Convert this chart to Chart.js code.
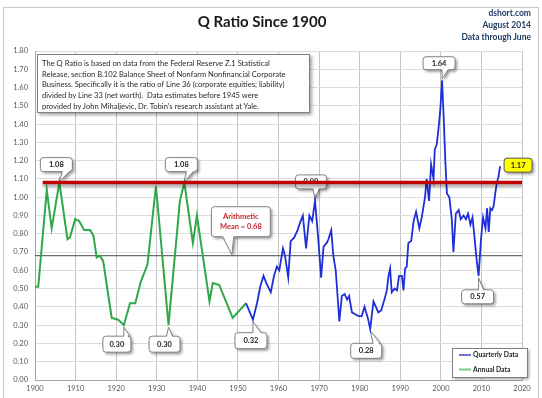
<!DOCTYPE html>
<html>
<head>
<meta charset="utf-8">
<script src="https://cdn.jsdelivr.net/npm/chart.js@4.4.1/dist/chart.umd.min.js"></script>
<style>
html, body { margin: 0; padding: 0; background: #fff; }
#wrap { position: relative; width: 542px; height: 398px; overflow: hidden; font-family: Lato, "Liberation Sans", sans-serif; }
#frame { position: absolute; left: 3px; top: 7px; width: 534px; height: 400px; border: 1px solid #c8c8c8; }
canvas { position: absolute; left: 0; top: 0; }
#title { position: absolute; left: 0; width: 524px; top: 12px; text-align: center; font-weight: bold; font-size: 15px; color: #1a1a1a; }
#src { position: absolute; right: 11px; top: 7px; text-align: right; font-weight: bold; font-size: 8.5px; line-height: 12px; color: #1f3b63; }
#note { position: absolute; left: 37px; top: 54px; width: 263px; height: 51px; padding: 3px 4px; background: #fff;
        border: 1px solid #7f7f7f; box-shadow: 2px 2px 3px rgba(0,0,0,0.35);
        font-size: 7.6px; line-height: 10.7px; color: #2a2a2a; white-space: nowrap; }
</style>
</head>
<body>
<div id="wrap">
  <div id="frame"></div>
  <canvas id="chart" width="542" height="398"></canvas>
  <div id="title">Q Ratio Since 1900</div>
  <div id="src">dshort.com<br>August 2014<br>Data through June</div>
  <div id="note">The Q Ratio is based on data from the Federal Reserve Z.1 Statistical<br>Release, section B.102 Balance Sheet of Nonfarm Nonfinancial Corporate<br>Business. Specifically it is the ratio of Line 36 (corporate equities; liability)<br>divided by Line 33 (net worth).&nbsp; Data estimates before 1945 were<br>provided by John Mihaljevic, Dr. Tobin's research assistant at Yale.</div>
</div>
<script>
// annual data (green)
const annualYears = [1900.0, 1900.8, 1902.9, 1904.1, 1906.0, 1908.0, 1908.6, 1909.9, 1910.9, 1912.1,
  1913.6, 1914.4, 1915.2, 1916.0, 1916.8, 1918.9, 1920.5, 1921.9, 1923.4, 1924.7,
  1926.1, 1927.7, 1929.8, 1932.9, 1935.7, 1936.8, 1938.9, 1939.9, 1943.0, 1943.8,
  1945.4, 1948.7, 1952.0];
const annualQ = [0.51, 0.51, 1.04, 0.83, 1.08, 0.77, 0.78, 0.88, 0.87, 0.82,
  0.82, 0.79, 0.67, 0.68, 0.65, 0.34, 0.33, 0.30, 0.42, 0.42,
  0.54, 0.63, 1.06, 0.30, 0.98, 1.08, 0.75, 0.90, 0.43, 0.53,
  0.52, 0.34, 0.42];

// quarterly data (blue)
const quarterYears = [1952.0, 1953.7, 1954.7, 1955.5, 1956.3, 1957.0, 1958.1, 1958.9, 1959.6, 1960.2,
  1961.1, 1961.6, 1962.4, 1963.0, 1963.9, 1964.7, 1965.3, 1966.0, 1966.8, 1967.6,
  1968.3, 1969.0, 1969.8, 1970.5, 1971.1, 1971.9, 1972.3, 1973.0, 1973.5, 1974.1,
  1975.0, 1975.6, 1976.3, 1976.9, 1977.4, 1978.1, 1978.9, 1979.7, 1980.5, 1981.2,
  1982.0, 1982.6, 1983.4, 1984.0, 1984.6, 1985.3, 1986.1, 1986.7, 1987.1, 1987.5,
  1987.9, 1988.6, 1989.2, 1989.7, 1990.4, 1990.8, 1991.2, 1991.6, 1992.0, 1992.7,
  1993.3, 1993.9, 1994.7, 1995.3, 1996.1, 1996.5, 1997.1, 1997.6, 1998.2, 1998.5,
  1999.0, 1999.5, 1999.9, 2000.3, 2000.7, 2001.1, 2001.5, 2002.1, 2002.7, 2003.1,
  2003.7, 2004.4, 2004.9, 2005.6, 2006.2, 2006.7, 2007.3, 2007.8, 2008.3, 2008.9,
  2009.3, 2009.9, 2010.4, 2011.0, 2011.4, 2011.8, 2012.2, 2012.6, 2013.0, 2013.4,
  2013.8, 2014.2, 2014.6];
const quarterQ = [0.42, 0.33, 0.42, 0.51, 0.57, 0.53, 0.48, 0.57, 0.62, 0.60,
  0.72, 0.68, 0.56, 0.76, 0.78, 0.82, 0.86, 0.90, 0.72, 0.90,
  0.87, 0.98, 0.77, 0.56, 0.73, 0.75, 0.77, 0.82, 0.68, 0.60,
  0.32, 0.46, 0.47, 0.44, 0.46, 0.37, 0.36, 0.35, 0.35, 0.40,
  0.34, 0.28, 0.43, 0.40, 0.37, 0.38, 0.44, 0.49, 0.57, 0.61,
  0.48, 0.50, 0.49, 0.57, 0.57, 0.49, 0.61, 0.62, 0.75, 0.76,
  0.87, 0.92, 0.83, 0.89, 1.00, 1.10, 0.98, 1.18, 1.10, 1.26,
  1.29, 1.39, 1.49, 1.64, 1.44, 1.20, 1.02, 1.00, 0.88, 0.70,
  0.91, 0.93, 0.88, 0.90, 0.88, 0.91, 0.85, 0.89, 0.78, 0.64,
  0.57, 0.77, 0.89, 0.83, 0.94, 0.81, 0.94, 0.93, 0.95, 1.02,
  1.08, 1.11, 1.17];

const meanQ = 0.68;
const meanYears = [1900, 2020];
const topQ = 1.08;
const topYears = [1901.9, 2020.3];

// callout labels: anchor (year, value), box offset / size in px, tail base relative to anchor x
const callouts = [
  { x: 1906.0, y: 1.08, text: ['1.08'], dx: -3, dy: -18, w: 32, h: 14, tail: [3, 10] },
  { x: 1936.8, y: 1.08, text: ['1.08'], dx: -3, dy: -18, w: 32, h: 14, tail: [2, 9] },
  { x: 1948.5, y: 0.68, text: ['Arithmetic', 'Mean = 0.68'], dx: 9, dy: -34, w: 59, h: 30, tail: [-9, 2], color: '#c0282d' },
  { x: 1921.9, y: 0.30, text: ['0.30'], dx: -7, dy: 19, w: 28, h: 16, tail: [0, 6] },
  { x: 1932.9, y: 0.30, text: ['0.30'], dx: -4, dy: 19, w: 31, h: 16, tail: [-2, 4] },
  { x: 1953.7, y: 0.33, text: ['0.32'], dx: -2, dy: 21, w: 32, h: 16, tail: [0, 8] },
  { x: 1969.0, y: 0.98, text: ['0.99'], dx: -4, dy: -19, w: 31, h: 14, tail: [-2, 4] },
  { x: 1982.6, y: 0.28, text: ['0.28'], dx: -4, dy: 22, w: 31, h: 15, tail: [3, 10] },
  { x: 2000.3, y: 1.64, text: ['1.64'], dx: -3, dy: -17, w: 32, h: 13, tail: [0, 6] },
  { x: 2009.3, y: 0.57, text: ['0.57'], dx: -1, dy: 21, w: 32, h: 14, tail: [0, 5] },
  { x: 2014.6, y: 1.17, text: ['1.17'], dx: 18, dy: -1, w: 28, h: 14, fill: '#ffff00', border: '#555' }
];

const blue = '#1f2fd8';
const green = '#2fa84a';

function toPoints(xs, ys) {
  return xs.map((x, i) => ({ x: x, y: ys[i] }));
}

function calloutPath(ctx, bx, by, w, h, r, ax, ay, c) {
  ctx.beginPath();
  ctx.moveTo(bx + r, by);
  if (c.tail && c.dy > 0) {
    ctx.lineTo(ax + c.tail[0], by);
    ctx.lineTo(ax, ay + 2);
    ctx.lineTo(ax + c.tail[1], by);
  }
  ctx.lineTo(bx + w - r, by);
  ctx.arcTo(bx + w, by, bx + w, by + r, r);
  ctx.lineTo(bx + w, by + h - r);
  ctx.arcTo(bx + w, by + h, bx + w - r, by + h, r);
  if (c.tail && c.dy < 0) {
    ctx.lineTo(ax + c.tail[1], by + h);
    ctx.lineTo(ax, ay - 1);
    ctx.lineTo(ax + c.tail[0], by + h);
  }
  ctx.lineTo(bx + r, by + h);
  ctx.arcTo(bx, by + h, bx, by + h - r, r);
  ctx.lineTo(bx, by + r);
  ctx.arcTo(bx, by, bx + r, by, r);
  ctx.closePath();
}

const calloutPlugin = {
  id: 'callouts',
  beforeDatasetsDraw(chart) {
    const ctx = chart.ctx;
    const xs = chart.scales.x, ys = chart.scales.y;
    callouts.forEach(c => {
      const ax = xs.getPixelForValue(c.x), ay = ys.getPixelForValue(c.y);
      const bx = ax + c.dx - c.w / 2, by = ay + c.dy - c.h / 2;
      ctx.save();
      ctx.shadowColor = 'rgba(0,0,0,0.4)';
      ctx.shadowBlur = 3;
      ctx.shadowOffsetX = 2;
      ctx.shadowOffsetY = 2;
      calloutPath(ctx, bx, by, c.w, c.h, 3, ax, ay, c);
      ctx.fillStyle = c.fill || '#fff';
      ctx.fill();
      ctx.shadowColor = 'transparent';
      ctx.strokeStyle = c.border || '#808080';
      ctx.lineWidth = 1;
      ctx.stroke();
      ctx.fillStyle = c.color || '#262626';
      ctx.font = 'bold 7.5px Lato';
      ctx.textAlign = 'center';
      ctx.textBaseline = 'middle';
      const n = c.text.length;
      c.text.forEach((t, i) => {
        ctx.fillText(t, bx + c.w / 2, by + c.h / 2 + (i - (n - 1) / 2) * 10);
      });
      ctx.restore();
    });
  },
  beforeDatasetDraw(chart, args) {
    if (args.meta.label === 'top') {
      const ctx = chart.ctx;
      ctx.save();
      ctx.shadowColor = 'rgba(0,0,0,0.35)';
      ctx.shadowBlur = 3;
      ctx.shadowOffsetY = 3;
    }
  },
  afterDatasetDraw(chart, args) {
    if (args.meta.label === 'top') chart.ctx.restore();
  },
  afterDatasetsDraw(chart) {
    // legend box, bottom right
    const ctx = chart.ctx;
    const bx = 452, by = 348, w = 75, h = 29;
    ctx.save();
    ctx.shadowColor = 'rgba(0,0,0,0.4)';
    ctx.shadowBlur = 3;
    ctx.shadowOffsetX = 2;
    ctx.shadowOffsetY = 2;
    ctx.fillStyle = '#fff';
    ctx.fillRect(bx, by, w, h);
    ctx.shadowColor = 'transparent';
    ctx.strokeStyle = '#808080';
    ctx.strokeRect(bx + 0.5, by + 0.5, w, h);
    const items = [['Quarterly Data', '#6f74d8'], ['Annual Data', '#7cc98a']];
    ctx.font = 'bold 6.8px Lato';
    ctx.textBaseline = 'middle';
    items.forEach((it, i) => {
      const y = by + 7 + i * 14.5;
      ctx.strokeStyle = it[1];
      ctx.lineWidth = 2;
      ctx.beginPath();
      ctx.moveTo(bx + 7, y);
      ctx.lineTo(bx + 19, y);
      ctx.stroke();
      ctx.fillStyle = '#262626';
      ctx.fillText(it[0], bx + 21, y);
    });
    ctx.restore();
  }
};

const ctx = document.getElementById('chart').getContext('2d');
const chart = new Chart(ctx, {
  type: 'line',
  data: {
    datasets: [
      { label: 'top', data: toPoints(topYears, topYears.map(() => topQ)), borderColor: '#c00000', borderWidth: 3.5, order: 0 },
      { label: 'Quarterly Data', data: toPoints(quarterYears, quarterQ), borderColor: blue, borderWidth: 1.8, order: 1 },
      { label: 'Annual Data', data: toPoints(annualYears, annualQ), borderColor: green, borderWidth: 2, order: 2 },
      { label: 'mean', data: toPoints(meanYears, meanYears.map(() => meanQ)), borderColor: '#4a4a4a', borderWidth: 1, order: 3 }
    ]
  },
  options: {
    responsive: false,
    animation: false,
    devicePixelRatio: 1,
    layout: { padding: { left: 0, top: 51, right: 20, bottom: 0 } },
    elements: { point: { radius: 0 }, line: { tension: 0 } },
    plugins: { legend: { display: false }, tooltip: { enabled: false } },
    scales: {
      x: {
        type: 'linear', min: 1900, max: 2020,
        afterFit: s => { s.height = 18; },
        grid: { color: '#c4c4c4', drawTicks: false },
        border: { color: '#a6a6a6' },
        ticks: { stepSize: 10, padding: 4, color: '#595959', font: { family: 'Lato', size: 7.5 }, maxRotation: 0,
                 callback: v => String(v) }
      },
      y: {
        min: 0, max: 1.8,
        afterFit: s => { s.width = 35; },
        grid: { color: '#dcdcdc', drawTicks: false },
        border: { color: '#a6a6a6' },
        ticks: { stepSize: 0.1, padding: 7, color: '#595959', font: { family: 'Lato', size: 7.5 },
                 callback: v => v.toFixed(2) }
      }
    }
  },
  plugins: [calloutPlugin]
});
</script>
</body>
</html>
